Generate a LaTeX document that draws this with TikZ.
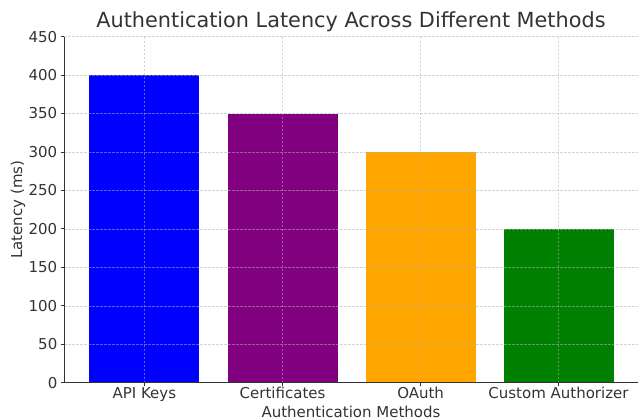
\documentclass[tikz,border=0pt]{standalone}
\usepackage{fontspec}
\setmainfont{DejaVu Sans}
\definecolor{txt}{HTML}{333333}
\definecolor{mpblue}{RGB}{0,0,255}
\definecolor{mppurple}{RGB}{128,0,128}
\definecolor{mporange}{RGB}{255,165,0}
\definecolor{mpgreen}{RGB}{0,128,0}
\begin{document}
\begin{tikzpicture}[x=1pt,y=-1pt,
  gridline/.style={draw=gray!60,opacity=0.55,dash pattern=on 2.5pt off 1.5pt,line width=0.5pt},
  spine/.style={draw=txt,line width=0.9pt},
  ticklab/.style={text=txt,font=\fontsize{15}{16}\selectfont,inner sep=0pt},
  lab/.style={text=txt,font=\fontsize{15}{16}\selectfont,inner sep=0pt}]
\useasboundingbox (0,0) rectangle (638,419);
% bars (value v -> y = 382.7 - 0.769*v)
\fill[mpblue]   (89.3,75.1)  rectangle (199.3,382.7);
\fill[mppurple] (227.6,113.6) rectangle (337.6,382.7);
\fill[mporange] (365.6,152.1) rectangle (475.6,382.7);
\fill[mpgreen]  (503.5,229.0) rectangle (613.5,382.7);
% grid
\foreach \v in {50,100,...,450}{
  \draw[gridline] (64,{382.7-0.7691*\v}) -- (638,{382.7-0.7691*\v});
}
\foreach \x in {144.3,282.6,420.6,558.5}{
  \draw[gridline] (\x,36.6) -- (\x,382.7);
}
% spines
\draw[spine] (64,36.6) -- (64,382.7) -- (638,382.7);
% y ticks
\foreach \v in {0,50,...,450}{
  \draw[txt,line width=0.8pt] (60.5,{382.7-0.7691*\v}) -- (64,{382.7-0.7691*\v});
  \node[ticklab,anchor=east] (y\v) at (57.5,{382.7-0.7691*\v}) {\v};
}
% x ticks
\foreach \x/\n/\t in {144.3/a/API Keys,282.6/b/Certificates,420.6/c/OAuth,558.5/d/Custom Authorizer}{
  \draw[txt,line width=0.8pt] (\x,382.7) -- (\x,386.2);
  \node[ticklab,anchor=base] (x\n) at (\x,398.5) {\t};
}
\node[lab,anchor=base] (xl) at (351,417.5) {Authentication Methods};
\node[lab,rotate=90,anchor=base] (yl) at (22,209.6) {Latency (ms)};
\node[text=txt,font=\fontsize{20.8}{22}\selectfont,inner sep=0pt,anchor=base] (title) at (351,28) {Authentication Latency Across Different Methods};
\end{tikzpicture}
\end{document}
